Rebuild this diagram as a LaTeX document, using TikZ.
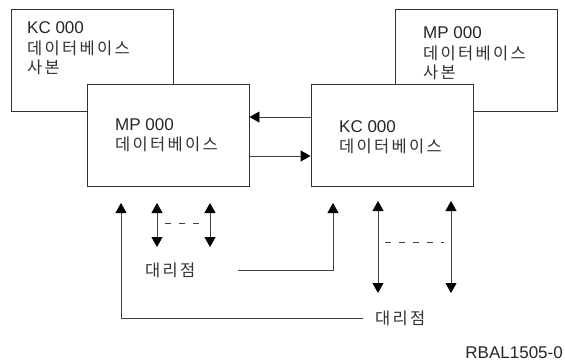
\documentclass[tikz,border=0pt]{standalone}
\usepackage{fontspec}
\setmainfont{Liberation Sans}
\newfontfamily\kr[LetterSpace=14]{Noto Sans CJK KR}
\usetikzlibrary{arrows.meta}
\begin{document}
\begin{tikzpicture}[x=1pt,y=-1pt,
 box/.style={draw=black!80,line width=0.9pt,fill=white,minimum width=162pt,minimum height=102pt,inner sep=0pt},
 lbl/.style={anchor=west,inner sep=0pt,text=black!85,font=\fontsize{17}{20}\selectfont},
 klbl/.style={anchor=west,inner sep=0pt,text=black!80,font=\kr\fontsize{16.5}{20}\selectfont},
 ln/.style={draw=black!75,line width=0.9pt},
 tip/.style={-{Triangle[length=10pt,width=11pt,color=black]}},
 tips/.style={{Triangle[length=10pt,width=11pt,color=black]}-{Triangle[length=10pt,width=11pt,color=black]}},
 dsh/.style={draw=black!75,line width=0.9pt,dash pattern=on 6pt off 8pt}
]
\useasboundingbox (0,0) rectangle (565,364);
% back boxes
\node[box] (kcc) at (92.5,60) {};
\node[box] (mpc) at (476,60) {};
\node[lbl] (kcct1) at (27,28) {KC 000};
\node[klbl] (kcct2) at (27,48) {데이터베이스};
\node[klbl] (kcct3) at (27,67) {사본};
\node[lbl] (mpct1) at (423,33) {MP 000};
\node[klbl] (mpct2) at (423,53) {데이터베이스};
\node[klbl] (mpct3) at (423,72) {사본};
% front boxes
\node[box] (mpf) at (168,135) {};
\node[box] (kcf) at (392,135.5) {};
\node[lbl] (mpft1) at (115,125) {MP 000};
\node[klbl] (mpft2) at (115,144) {데이터베이스};
\node[lbl] (kcft1) at (339,127) {KC 000};
\node[klbl] (kcft2) at (339,146) {데이터베이스};
% arrows between boxes
\coordinate (a1) at (280,117);
\coordinate (a2) at (280,156);
\draw[ln,tip] (kcf.west |- a1) -- (mpf.east |- a1);
\draw[ln,tip] (mpf.east |- a2) -- (kcf.west |- a2);
% agents
\node[klbl] (d1) at (145,270) {대리점};
\node[klbl] (d2) at (375,318) {대리점};
\coordinate (p1t) at (121,203);
\coordinate (p2t) at (333,203);
\draw[ln,tip] ([xshift=-12pt]d2.west) -| (p1t);
\draw[ln,tip] (238,270) -| (p2t);
% double arrows left
\coordinate (l1t) at (157,203); \coordinate (l1b) at (157,247);
\coordinate (l2t) at (210,203); \coordinate (l2b) at (210,247);
\draw[ln,tips] (l1b) -- (l1t);
\draw[ln,tips] (l2b) -- (l2t);
\draw[dsh] (165,223) -- (205,223);
% double arrows right
\coordinate (r1t) at (378,201); \coordinate (r1b) at (378,293);
\coordinate (r2t) at (451,201); \coordinate (r2b) at (451,293);
\draw[ln,tips] (r1b) -- (r1t);
\draw[ln,tips] (r2b) -- (r2t);
\draw[dsh] (385,242) -- (444,242);
\node[lbl,anchor=east] (ref) at (563,353) {RBAL1505-0};
\end{tikzpicture}
\end{document}
